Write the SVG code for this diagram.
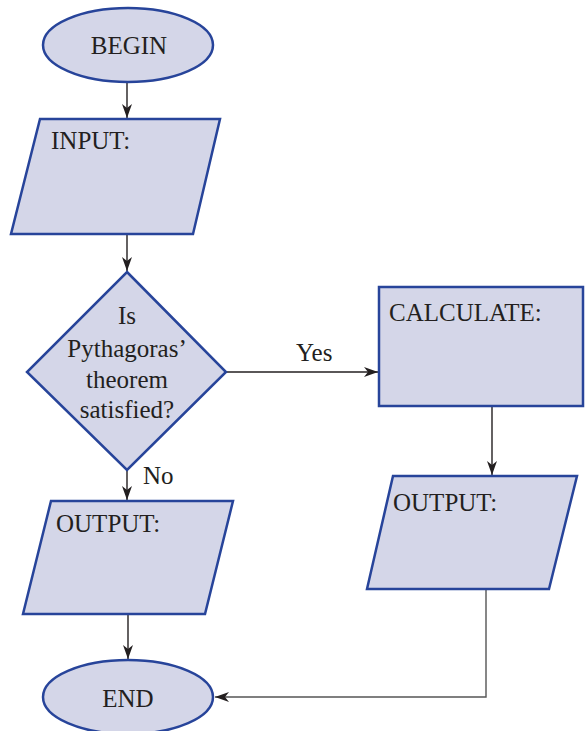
<svg xmlns="http://www.w3.org/2000/svg" width="585" height="731" viewBox="0 0 585 731">
<defs>
<marker id="arr" markerWidth="14" markerHeight="10" refX="14" refY="5" orient="auto" markerUnits="userSpaceOnUse">
<path d="M0,0 L14,5 L0,10 L4,5 z" fill="#231f20"/>
</marker>
<style>
.shape{fill:#d4d6e8;stroke:#27449a;stroke-width:2.5;}
.t{font-family:"Liberation Serif","Times New Roman",serif;font-size:25px;fill:#231f20;}
.c{fill:none;stroke:#231f20;stroke-width:1.4;}
</style>
</defs>
<rect width="585" height="731" fill="#ffffff"/>
<g id="connectors">
<line class="c" x1="127" y1="82" x2="127" y2="118" marker-end="url(#arr)"/>
<line class="c" x1="127" y1="235" x2="127" y2="271" marker-end="url(#arr)"/>
<line class="c" x1="226" y1="372" x2="378" y2="372" marker-end="url(#arr)"/>
<line class="c" x1="127" y1="470" x2="127" y2="500" marker-end="url(#arr)"/>
<line class="c" x1="128" y1="615" x2="128" y2="659" marker-end="url(#arr)"/>
<line class="c" x1="492" y1="407" x2="492" y2="475" marker-end="url(#arr)"/>
<polyline class="c" points="486,590 486,697 215,697" style="stroke:#555" marker-end="url(#arr)"/>
<text class="t" x="296" y="361">Yes</text>
<text class="t" x="143" y="484">No</text>
</g>
<g id="begin">
<ellipse class="shape" cx="128" cy="45" rx="85" ry="37"/>
<text class="t" x="129" y="54" text-anchor="middle">BEGIN</text>
</g>
<g id="input">
<polygon class="shape" points="40,119 220,119 193,234 11,234"/>
<text class="t" x="51" y="149">INPUT:</text>
</g>
<g id="decision">
<polygon class="shape" points="127,272 226,372 127,470 27,372"/>
<text class="t" x="127" y="324" text-anchor="middle">Is</text>
<text class="t" x="127" y="357" text-anchor="middle">Pythagoras’</text>
<text class="t" x="127" y="388" text-anchor="middle">theorem</text>
<text class="t" x="127" y="418" text-anchor="middle">satisfied?</text>
</g>
<g id="calculate">
<rect class="shape" x="379" y="287" width="204" height="119"/>
<text class="t" x="389" y="321">CALCULATE:</text>
</g>
<g id="output-right">
<polygon class="shape" points="393,476 577,476 549,589 367,589"/>
<text class="t" x="393" y="511">OUTPUT:</text>
</g>
<g id="output-left">
<polygon class="shape" points="51,501 233,501 205,614 23,614"/>
<text class="t" x="56" y="532">OUTPUT:</text>
</g>
<g id="end">
<ellipse class="shape" cx="128" cy="697" rx="85" ry="37"/>
<text class="t" x="128" y="707" text-anchor="middle">END</text>
</g>
</svg>
